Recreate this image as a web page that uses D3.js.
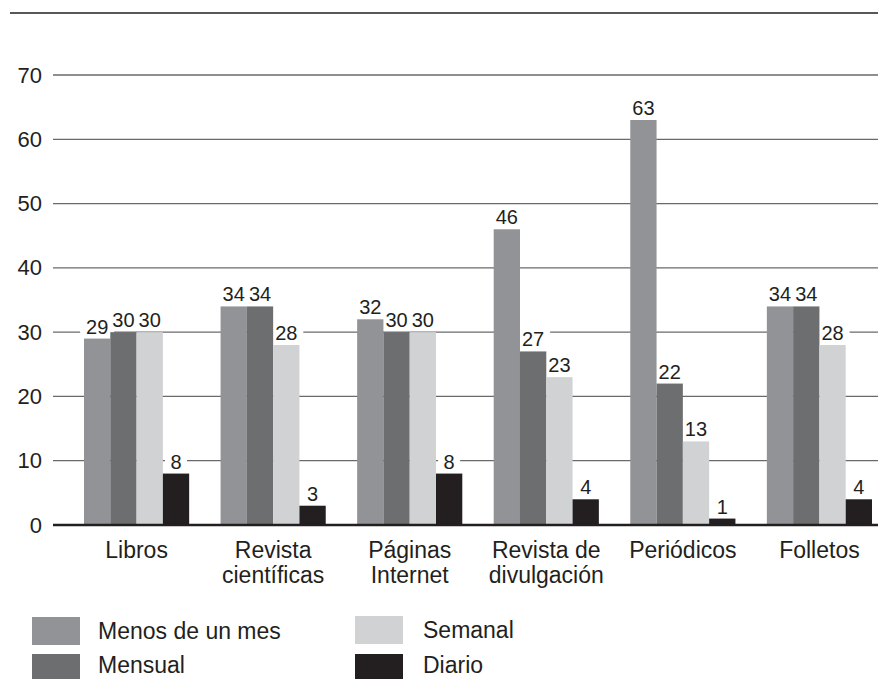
<!DOCTYPE html>
<html>
<head>
<meta charset="utf-8">
<script src="https://cdn.jsdelivr.net/npm/d3@7"></script>
<style>
  body { margin: 0; background: #fff; }
  svg text { font-family: "Liberation Sans", Arial, sans-serif; fill: #231f20; }
</style>
</head>
<body>
<svg id="chart"></svg>
<script>
const width = 878, height = 679;

const categories = [
    ["Libros"],
    ["Revista", "científicas"],
    ["Páginas", "Internet"],
    ["Revista de", "divulgación"],
    ["Periódicos"],
    ["Folletos"]
];
const seriesNames = ["Menos de un mes", "Mensual", "Semanal", "Diario"];
const seriesColors = ["#929396", "#6d6e70", "#d1d2d4", "#231f20"];

const menosDeUnMes = [29, 34, 32, 46, 63, 34];
const mensual = [30, 34, 30, 27, 22, 34];
const semanal = [30, 28, 30, 23, 13, 28];
const diario = [8, 3, 8, 4, 1, 4];
const series = [menosDeUnMes, mensual, semanal, diario];

const yTicks = [0, 10, 20, 30, 40, 50, 60, 70];

const svg = d3.select("#chart")
    .attr("width", width)
    .attr("height", height);

const x0 = d3.scaleBand()
    .domain(d3.range(categories.length))
    .range([84, 872])
    .paddingInner(0.23)
    .paddingOuter(0);

const x1 = d3.scaleBand()
    .domain(d3.range(series.length))
    .range([0, x0.bandwidth()]);

const y = d3.scaleLinear().domain([0, 70]).range([525, 75]);

// line along the top
svg.append("line")
    .attr("x1", 10).attr("x2", width)
    .attr("y1", 13).attr("y2", 13)
    .attr("stroke", "#231f20")
    .attr("stroke-width", 1.5);

// gridlines + y labels
const yAxis = svg.append("g")
    .attr("transform", "translate(53,0)")
    .call(d3.axisLeft(y).tickValues(yTicks).tickSize(0).tickPadding(11));
yAxis.select(".domain").remove();
yAxis.selectAll("text")
    .style("font-size", "22px")
    .attr("fill", "#231f20");

svg.append("g")
    .selectAll("line")
    .data(yTicks.filter(d => d > 0))
    .join("line")
    .attr("x1", 53).attr("x2", width)
    .attr("y1", d => y(d)).attr("y2", d => y(d))
    .attr("stroke", "#6a6a6a")
    .attr("stroke-width", 1.3);

const rows = categories.map((c, i) => series.map((s, j) => ({ cat: i, ser: j, value: s[i] })));
const flat = rows.flat();
const labelX = d => x0(d.cat) + x1(d.ser) + x1.bandwidth() / 2;
const labelY = d => y(d.value) - 5;

// white boxes behind value labels, hide the gridlines only
svg.append("g")
    .selectAll("rect")
    .data(flat)
    .join("rect")
    .attr("x", d => labelX(d) - String(d.value).length * 6 - 5)
    .attr("y", d => labelY(d) - 17)
    .attr("width", d => String(d.value).length * 12 + 10)
    .attr("height", 19)
    .attr("fill", "#fff");

// bars
svg.append("g")
    .selectAll("rect")
    .data(flat)
    .join("rect")
    .attr("x", d => x0(d.cat) + x1(d.ser))
    .attr("y", d => y(d.value))
    .attr("width", x1.bandwidth())
    .attr("height", d => y(0) - y(d.value))
    .attr("fill", d => seriesColors[d.ser]);

// value labels
svg.append("g")
    .selectAll("text")
    .data(flat)
    .join("text")
    .attr("x", labelX)
    .attr("y", labelY)
    .attr("text-anchor", "middle")
    .style("font-size", "20px")
    .text(d => d.value);

// zero line
svg.append("line")
    .attr("x1", 53).attr("x2", width)
    .attr("y1", y(0)).attr("y2", y(0))
    .attr("stroke", "#231f20")
    .attr("stroke-width", 2.5);

// category labels
const catLabels = svg.append("g")
    .selectAll("text")
    .data(categories)
    .join("text")
    .attr("x", (d, i) => x0(i) + x0.bandwidth() / 2)
    .attr("y", 558)
    .attr("text-anchor", "middle")
    .style("font-size", "23px");

catLabels.selectAll("tspan")
    .data(d => d)
    .join("tspan")
    .attr("x", function () { return d3.select(this.parentNode).attr("x"); })
    .attr("dy", (d, i) => i === 0 ? 0 : 25)
    .text(d => d);

// legend
const legendPos = [[32, 617], [32, 654], [355, 616], [355, 654]];
const legend = svg.append("g")
    .selectAll("g")
    .data(seriesNames)
    .join("g")
    .attr("transform", (d, i) => `translate(${legendPos[i][0]},${legendPos[i][1]})`);

legend.append("rect")
    .attr("width", 48)
    .attr("height", 28)
    .attr("fill", (d, i) => seriesColors[i]);

legend.append("text")
    .attr("x", (d, i) => i < 2 ? 66 : 68)
    .attr("y", (d, i) => i % 2 === 0 ? 14 : 11)
    .attr("dy", "0.35em")
    .style("font-size", "23px")
    .text(d => d);
</script>
</body>
</html>
